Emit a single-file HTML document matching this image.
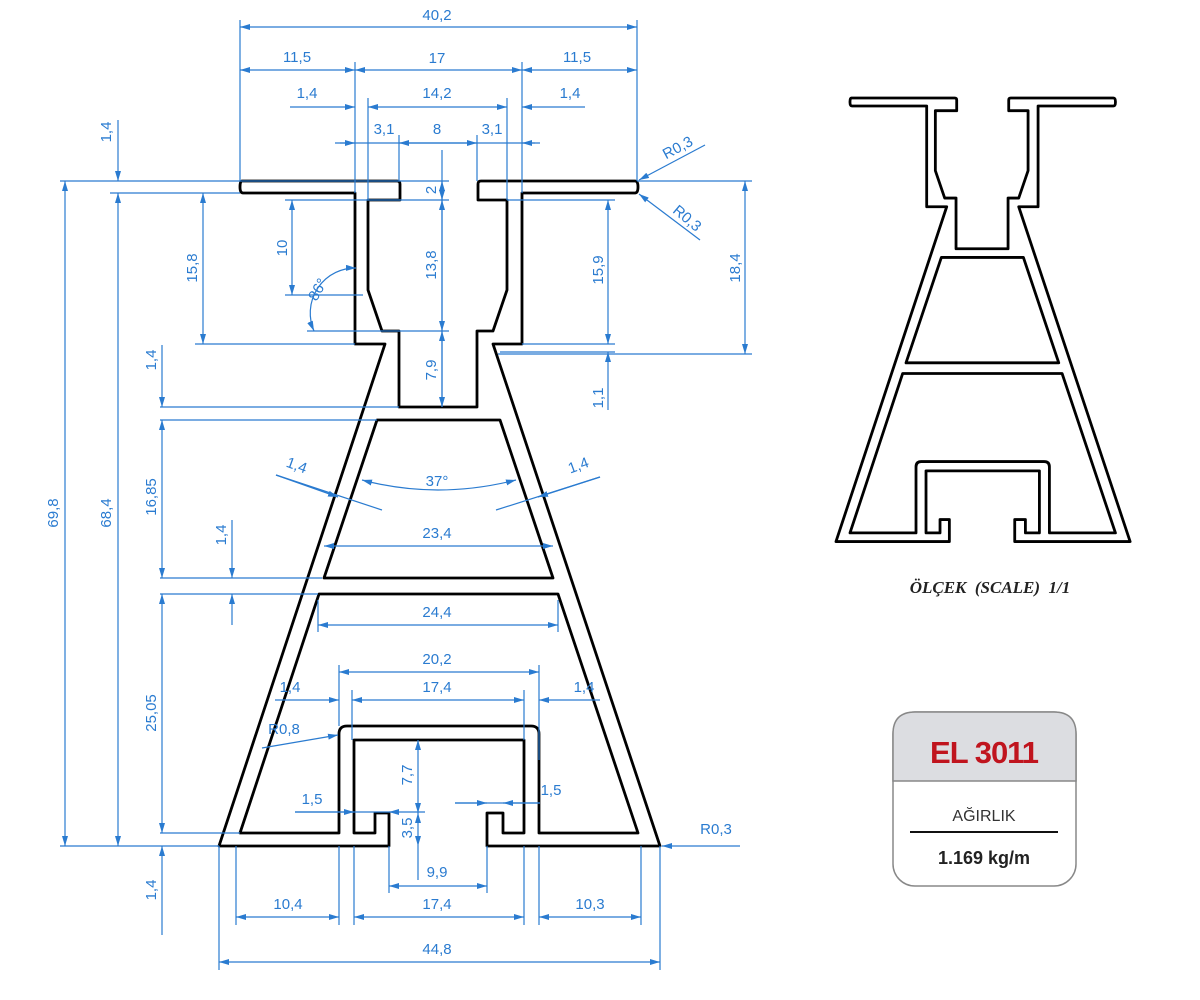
<!DOCTYPE html>
<html><head><meta charset="utf-8"><style>
html,body{margin:0;padding:0;background:#fff}
svg{display:block}
.d{stroke:#2a7bd0;stroke-width:1.2;fill:none}
.a{stroke:#2a7bd0;stroke-width:1.2;fill:none;marker-start:url(#ms);marker-end:url(#me)}
.e{stroke:#2a7bd0;stroke-width:1.2;fill:none;marker-end:url(#me)}
.t{fill:#2a7bd0;font-family:"Liberation Sans",sans-serif;font-size:15px;text-anchor:middle}
.p{fill:none;stroke:#000;stroke-width:2.8;stroke-linejoin:round}
</style></head><body>
<svg width="1200" height="1000" viewBox="0 0 1200 1000" xmlns="http://www.w3.org/2000/svg">
<defs>
<marker id="me" markerWidth="10" markerHeight="6" refX="10" refY="3" orient="auto" markerUnits="userSpaceOnUse"><path d="M0,0 L10,3 L0,6z" fill="#2a7bd0"/></marker>
<marker id="ms" markerWidth="10" markerHeight="6" refX="0" refY="3" orient="auto" markerUnits="userSpaceOnUse"><path d="M10,0 L0,3 L10,6z" fill="#2a7bd0"/></marker>
<g id="prof">
<path class="p" vector-effect="non-scaling-stroke" d="M242,181 L397,181 Q400,181 400,184 L400,200 L368,200 L368,290 L382,331 L399,331 L399,407 L477,407 L477,331 L493,331 L507,290 L507,200 L478,200 L478,184 Q478,181 481,181 L635,181 Q638,181 638,187 Q638,193 635,193 L522,193 L522,344 L493,344 L660,846 L487,846 L487,813 L503,813 L503,833 L524,833 L524,740 L354,740 L354,833 L375,833 L375,813 L389,813 L389,846 L219,846 L385,344 L355,344 L355,193 L243,193 Q240,193 240,187 Q240,181 242,181 Z"/>
<path class="p" vector-effect="non-scaling-stroke" d="M377,420 L500,420 L553,578 L324,578 Z"/>
<path class="p" vector-effect="non-scaling-stroke" d="M319,594 L558,594 L638,833 L539,833 L539,734 Q539,726 531,726 L347,726 Q339,726 339,734 L339,833 L240,833 Z"/>
</g>
</defs>

<use href="#prof"/>
<use href="#prof" transform="translate(689.9,-22.7) scale(0.667)"/>

<!-- top dims -->
<path class="d" d="M240,20V181 M637,20V181 M355,62V193 M522,62V193 M368,98V200 M507,98V200 M399,135V181 M477,135V181"/>
<path class="a" d="M240,27H637"/>
<text class="t" x="437" y="20">40,2</text>
<path class="a" d="M240,70H355"/><path class="a" d="M355,70H522"/><path class="a" d="M522,70H637"/>
<text class="t" x="297" y="62">11,5</text><text class="t" x="437" y="63">17</text><text class="t" x="577" y="62">11,5</text>
<path class="e" d="M290,107H355"/><path class="a" d="M368,107H507"/><path class="e" d="M585,107H522"/>
<text class="t" x="307" y="98">1,4</text><text class="t" x="437" y="98">14,2</text><text class="t" x="570" y="98">1,4</text>
<path class="d" d="M335,143H540"/><path class="a" d="M399,143H477"/>
<path class="e" d="M340,143H355"/><path class="e" d="M535,143H522"/>
<text class="t" x="384" y="134">3,1</text><text class="t" x="437" y="134">8</text><text class="t" x="492" y="134">3,1</text>
<!-- center vertical -->
<path class="d" d="M442,150V407 M60,181H449 M285,200H449 M307,331H449 M285,295H363 M195,344H355 M110,193H240"/>
<path class="a" d="M442,181V200"/><path class="a" d="M442,200V331"/><path class="a" d="M442,331V407"/>
<text class="t" transform="translate(436,190) rotate(-90)">2</text>
<text class="t" transform="translate(436,265) rotate(-90)">13,8</text>
<text class="t" transform="translate(436,370) rotate(-90)">7,9</text>
<path class="a" d="M292,200V295"/><text class="t" transform="translate(287,248) rotate(-90)">10</text>
<path class="a" d="M314,331 A45,45 0 0 1 356,268"/>
<text class="t" transform="translate(322,292) rotate(-60)">86°</text>
<path class="a" d="M203,193V344"/><text class="t" transform="translate(197,268) rotate(-90)">15,8</text>
<!-- left verticals -->
<path class="d" d="M60,846H219 M160,407H399 M160,420H377 M160,578H322 M160,594H318 M160,833H240"/>
<path class="a" d="M65,181V846"/><text class="t" transform="translate(58,513) rotate(-90)">69,8</text>
<path class="a" d="M118,193V846"/><text class="t" transform="translate(111,513) rotate(-90)">68,4</text>
<path class="e" d="M118,120V181"/><text class="t" transform="translate(111,132) rotate(-90)">1,4</text>
<path class="e" d="M162,345V407"/><text class="t" transform="translate(156,360) rotate(-90)">1,4</text>
<path class="a" d="M162,420V578"/><text class="t" transform="translate(156,497) rotate(-90)">16,85</text>
<path class="a" d="M162,594V833"/><text class="t" transform="translate(156,713) rotate(-90)">25,05</text>
<path class="e" d="M162,935V846"/><text class="t" transform="translate(156,890) rotate(-90)">1,4</text>
<path class="e" d="M232,520V578"/><path class="e" d="M232,625V594"/><text class="t" transform="translate(226,535) rotate(-90)">1,4</text>
<!-- right dims -->
<path class="d" d="M507,200H615 M522,344H615 M500,352H615 M637,181H752 M498,354H752"/>
<path class="a" d="M608,200V344"/><text class="t" transform="translate(603,270) rotate(-90)">15,9</text>
<path class="e" d="M608,410V352"/><text class="t" transform="translate(603,398) rotate(-90)">1,1</text>
<path class="a" d="M745,181V354"/><text class="t" transform="translate(740,268) rotate(-90)">18,4</text>
<path class="e" d="M705,145L639,180"/><text class="t" transform="translate(680,152) rotate(-28)">R0,3</text>
<path class="e" d="M700,240L639,194"/><text class="t" transform="translate(684,222) rotate(40)">R0,3</text>
<path class="e" d="M740,846H662"/><text class="t" x="716" y="834">R0,3</text>
<!-- middle -->
<path class="a" d="M362,480 Q437,500 516,480"/><text class="t" x="437" y="486">37°</text>
<path class="d" d="M276,475L382,510 M600,477L496,510"/>
<path class="e" d="M276,475L338,497"/><path class="e" d="M600,477L538,497"/>
<text class="t" transform="translate(295,470) rotate(20)">1,4</text><text class="t" transform="translate(580,470) rotate(-20)">1,4</text>
<path class="a" d="M324,546H553"/><text class="t" x="437" y="538">23,4</text>
<path class="a" d="M318,625H558"/><text class="t" x="437" y="617">24,4</text>
<path class="d" d="M339,665V726 M539,665V760 M352,690V740 M524,690V740 M318,600V632 M558,600V632"/>
<path class="a" d="M339,672H539"/><text class="t" x="437" y="664">20,2</text>
<path class="e" d="M275,700H339"/><path class="a" d="M352,700H524"/><path class="e" d="M600,700H539"/>
<text class="t" x="290" y="692">1,4</text><text class="t" x="437" y="692">17,4</text><text class="t" x="584" y="692">1,4</text>
<path class="e" d="M262,748L338,735"/><text class="t" x="284" y="734">R0,8</text>
<path class="d" d="M380,812H425 M418,846V880 M389,846V893 M487,846V893 M354,846V925 M524,846V925 M236,846V925 M339,846V925 M539,846V925 M641,846V925 M219,846V970 M660,846V970"/>
<path class="a" d="M418,740V813"/><text class="t" transform="translate(412,775) rotate(-90)">7,7</text>
<path class="a" d="M418,813V846"/><text class="t" transform="translate(412,828) rotate(-90)">3,5</text>
<path class="d" d="M295,812H380"/><path class="e" d="M295,812H354"/><path class="e" d="M395,812H389"/><text class="t" x="312" y="804">1,5</text>
<path class="d" d="M455,803H540"/><path class="e" d="M455,803H487"/><path class="e" d="M540,803H503"/><text class="t" x="551" y="795">1,5</text>
<path class="a" d="M389,886H487"/><text class="t" x="437" y="877">9,9</text>
<path class="a" d="M236,917H339"/><path class="a" d="M354,917H524"/><path class="a" d="M539,917H641"/>
<text class="t" x="288" y="909">10,4</text><text class="t" x="437" y="909">17,4</text><text class="t" x="590" y="909">10,3</text>
<path class="a" d="M219,962H660"/><text class="t" x="437" y="954">44,8</text>

<!-- scale text -->
<text x="990" y="593" text-anchor="middle" font-family="'Liberation Serif',serif" font-style="italic" font-weight="bold" font-size="17" fill="#222" xml:space="preserve">ÖLÇEK  (SCALE)  1/1</text>

<!-- label box -->
<rect x="893" y="712" width="183" height="174" rx="22" fill="#fff" stroke="#888" stroke-width="1.5"/>
<path d="M893,781 V734 Q893,712 915,712 H1054 Q1076,712 1076,734 V781 Z" fill="#dcdde1" stroke="#888" stroke-width="1.5"/>
<text x="984" y="763" text-anchor="middle" font-family="'Liberation Sans',sans-serif" font-weight="bold" font-size="31" fill="#c0141e" letter-spacing="-1">EL 3011</text>
<text x="984" y="821" text-anchor="middle" font-family="'Liberation Sans',sans-serif" font-size="16" fill="#333">AĞIRLIK</text>
<path d="M910,832H1058" stroke="#111" stroke-width="2"/>
<text x="984" y="864" text-anchor="middle" font-family="'Liberation Sans',sans-serif" font-weight="bold" font-size="18" fill="#222">1.169 kg/m</text>
</svg>
</body></html>
